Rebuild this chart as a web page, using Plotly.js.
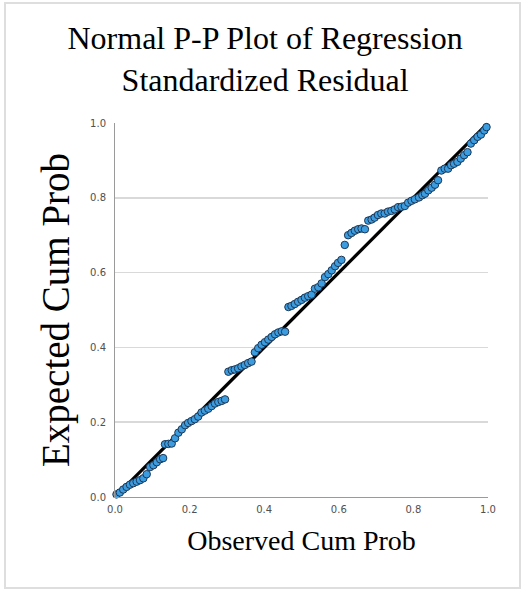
<!DOCTYPE html>
<html>
<head>
<meta charset="utf-8">
<script src="https://cdn.plot.ly/plotly-3.0.1.min.js"></script>
<style>
  html, body { margin: 0; padding: 0; background: #ffffff; }
  #wrap { position: relative; width: 525px; height: 591px; }
  #chart { position: absolute; left: 0; top: 0; width: 525px; height: 591px; }
  #frame { position: absolute; left: 4px; top: 2px; width: 517px; height: 587px;
           box-sizing: border-box; border: 2px solid #dedede; pointer-events: none; }
</style>
</head>
<body>
<div id="wrap"><div id="chart"></div><div id="frame"></div></div>
<script>
// Observed cumulative probability (x) and expected cumulative probability (y)
const observedCumProb = [
  0.004, 0.013, 0.022, 0.031, 0.040, 0.049, 0.058, 0.067, 0.076, 0.085,
  0.094, 0.103, 0.112, 0.121, 0.129, 0.134, 0.143, 0.152, 0.161, 0.170,
  0.179, 0.188, 0.196, 0.205, 0.214, 0.223, 0.232, 0.241, 0.250, 0.259,
  0.268, 0.277, 0.286, 0.295, 0.304, 0.313, 0.321, 0.330, 0.339, 0.348,
  0.357, 0.366, 0.375, 0.384, 0.393, 0.402, 0.411, 0.420, 0.429, 0.438,
  0.447, 0.456, 0.465, 0.473, 0.482, 0.491, 0.500, 0.509, 0.518, 0.527,
  0.536, 0.545, 0.554, 0.563, 0.572, 0.581, 0.590, 0.598, 0.607, 0.616,
  0.625, 0.634, 0.643, 0.652, 0.661, 0.670, 0.679, 0.688, 0.696, 0.705,
  0.714, 0.723, 0.732, 0.741, 0.750, 0.759, 0.768, 0.777, 0.786, 0.795,
  0.804, 0.815, 0.824, 0.831, 0.840, 0.849, 0.858, 0.866, 0.875, 0.884,
  0.893, 0.901, 0.909, 0.918, 0.927, 0.936, 0.945, 0.954, 0.963, 0.972,
  0.981, 0.990, 0.996
];
const expectedCumProb = [
  0.007, 0.012, 0.020, 0.027, 0.033, 0.037, 0.041, 0.045, 0.050, 0.061,
  0.080, 0.085, 0.093, 0.101, 0.104, 0.141, 0.142, 0.143, 0.157, 0.172,
  0.181, 0.192, 0.198, 0.203, 0.208, 0.215, 0.226, 0.231, 0.236, 0.243,
  0.250, 0.254, 0.257, 0.261, 0.335, 0.339, 0.341, 0.344, 0.349, 0.353,
  0.358, 0.362, 0.387, 0.398, 0.407, 0.414, 0.421, 0.428, 0.435, 0.440,
  0.443, 0.442, 0.508, 0.511, 0.516, 0.522, 0.527, 0.533, 0.537, 0.541,
  0.557, 0.561, 0.571, 0.588, 0.596, 0.606, 0.617, 0.626, 0.634, 0.674,
  0.700, 0.706, 0.712, 0.716, 0.718, 0.716, 0.739, 0.742, 0.747, 0.754,
  0.758, 0.758, 0.763, 0.765, 0.769, 0.775, 0.776, 0.778, 0.787, 0.792,
  0.796, 0.801, 0.807, 0.811, 0.820, 0.827, 0.835, 0.847, 0.873, 0.878,
  0.878, 0.887, 0.891, 0.896, 0.905, 0.914, 0.922, 0.945, 0.954, 0.963,
  0.969, 0.980, 0.989
];
// Reference (normal) line
const refLineX = [0, 1];
const refLineY = [0, 1];
// Tick labels
const tickValues = [0, 0.2, 0.4, 0.6, 0.8, 1.0];
const tickLabels = ["0.0", "0.2", "0.4", "0.6", "0.8", "1.0"];

const data = [
  {
    type: 'scatter', mode: 'lines',
    x: refLineX, y: refLineY,
    line: { color: '#000000', width: 3.2 },
    cliponaxis: false, hoverinfo: 'skip'
  },
  {
    type: 'scatter', mode: 'markers',
    x: observedCumProb, y: expectedCumProb,
    marker: { size: 7.5, color: '#3b9de0', line: { color: '#1d3857', width: 1 } },
    cliponaxis: false, hoverinfo: 'x+y'
  }
];

const layout = {
  width: 525, height: 591,
  paper_bgcolor: 'rgba(0,0,0,0)', plot_bgcolor: '#ffffff',
  showlegend: false,
  margin: { l: 115, r: 37, t: 123, b: 94 },
  title: {
    text: 'Normal P-P Plot of Regression<br>Standardized Residual',
    font: { family: 'Liberation Serif, Times New Roman, serif', size: 32, color: '#000000' },
    x: 0.505, xref: 'container', xanchor: 'center',
    y: 0.917, yref: 'container', yanchor: 'top'
  },
  xaxis: {
    range: [0, 1], tickvals: tickValues, ticktext: tickLabels,
    showgrid: false, zeroline: false,
    showline: true, linecolor: '#9a9a9a', linewidth: 1,
    ticks: '', ticklabelstandoff: 3,
    tickfont: { family: 'DejaVu Sans, sans-serif', size: 10, color: '#505050' },
    title: { text: 'Observed Cum Prob', standoff: 16,
             font: { family: 'Liberation Serif, Times New Roman, serif', size: 28, color: '#000000' } },
    fixedrange: true
  },
  yaxis: {
    range: [0, 1], tickvals: tickValues, ticktext: tickLabels,
    showgrid: true, gridcolor: '#d9d9d9', gridwidth: 1.5, zeroline: false,
    showline: true, linecolor: '#9a9a9a', linewidth: 1,
    ticks: '', ticklabelstandoff: 6,
    tickfont: { family: 'DejaVu Sans, sans-serif', size: 10, color: '#505050' },
    title: { text: 'Expected Cum Prob', standoff: 8,
             font: { family: 'Liberation Serif, Times New Roman, serif', size: 39, color: '#000000' } },
    fixedrange: true
  }
};

Plotly.newPlot('chart', data, layout, { displayModeBar: false, staticPlot: true });
</script>
</body>
</html>
